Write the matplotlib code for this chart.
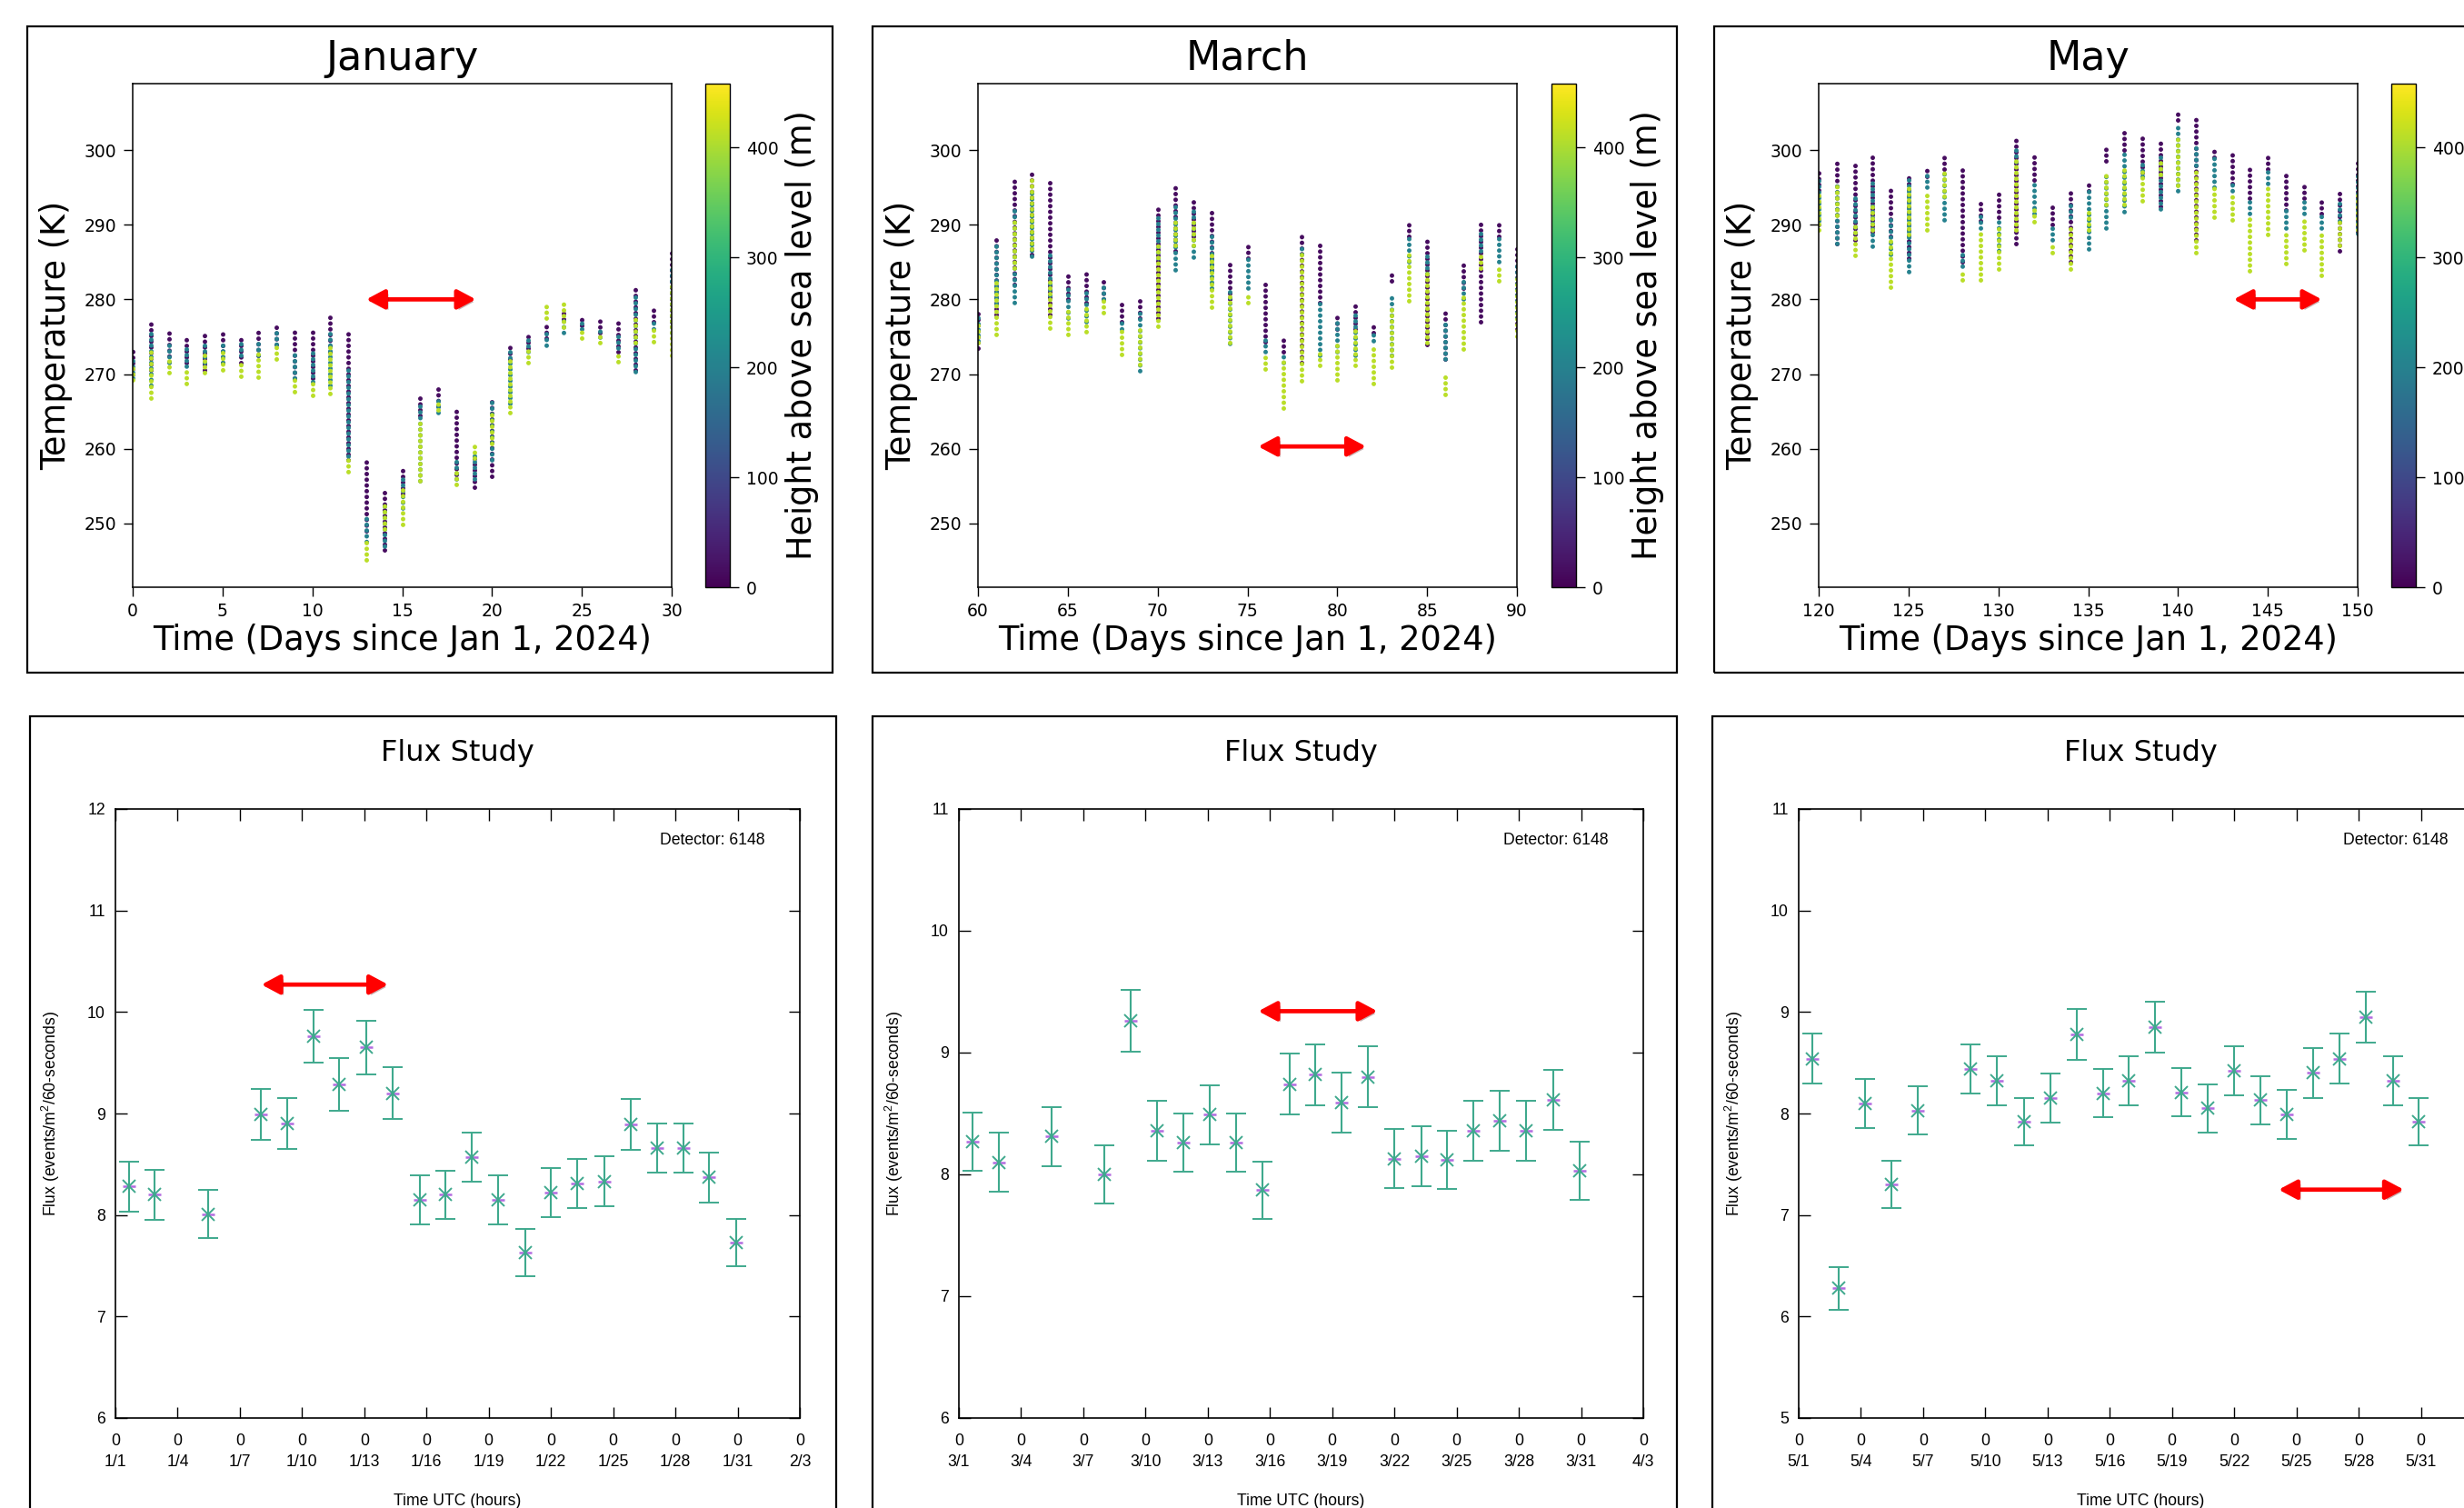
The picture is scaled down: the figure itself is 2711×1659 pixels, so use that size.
import matplotlib
matplotlib.use('Agg')
import matplotlib.pyplot as plt
from matplotlib.colors import Normalize
from matplotlib.cm import ScalarMappable
from matplotlib.patches import Rectangle
import matplotlib.patheffects as pe

plt.rcParams['font.family'] = ['DejaVu Sans']
plt.rcParams['mathtext.fontset'] = 'custom'
plt.rcParams['mathtext.rm'] = 'Liberation Sans'
plt.rcParams['mathtext.it'] = 'Liberation Sans:italic'

# ---------------- data: temperature columns (K) per day, per height class ----------------
heights = [15, 200, 410]          # m above sea level: low (purple), mid (teal), high (yellow)
height_max = 458

jan_days = list(range(0, 31))
jan_low = [(270, 273.5), (270.5, 277), (271.7, 275.8), (271.5, 274.7), (270.5, 275.4), (271.5, 275.7),
           (271.5, 275.3), (272.5, 275.7), (274, 276.6), (269.5, 275.9), (269.5, 275.7), (273, 278.3),
           (258.5, 275.7), (249, 258.9), (246.5, 254.6), (254, 257.4), (264.5, 267), (265.7, 268),
           (256.5, 265.7), (254.8, 259), (256.3, 267), (272, 273.9), (273.5, 275.7), (274.8, 277),
           (277.4, 278.5), (276.5, 277.9), (275.5, 277.6), (273, 277.2), (270.5, 281.5), (277, 278.9),
           (277, 286.7)]
jan_mid = [(269, 272.5), (268, 276), (271, 274.5), (270.5, 273.5), (271, 274), (271, 274.5),
           (272, 274.5), (272, 274.5), (273.5, 275.5), (269, 273), (268.5, 273), (268, 276),
           (258.5, 271), (247, 251), (246.5, 252.5), (251.5, 256.5), (255.2, 266), (264.3, 266.5),
           (255.5, 258.5), (255.5, 259.5), (258, 266.5), (265.5, 273), (272.5, 275), (273.3, 276),
           (275, 277.4), (275.5, 277), (274.5, 276), (273, 275), (269.8, 280.5), (275.5, 277.5),
           (275, 284.5)]
jan_high = [(269, 271), (266.5, 273), (269.9, 272), (268.5, 271), (270, 273), (270.3, 273.5),
            (269.5, 272), (269.3, 273), (271.8, 274), (267.4, 270), (266.9, 269), (267.2, 274),
            (256.7, 259), (244.8, 248), (249, 253), (249.6, 255), (255.5, 264), (265, 266),
            (255, 256.8), (258.5, 260.7), (260.4, 265), (264.6, 272), (271.3, 273.5), (277.2, 279.3),
            (276, 279.7), (274.6, 276), (274, 275), (271.4, 273), (274, 277.5), (274.1, 276),
            (272.2, 282)]

mar_days = list(range(60, 91))
mar_low = [(273.5, 278.7), (278, 288.3), (282, 296.1), (286, 297), (278, 295.9), (280, 283.6),
           (279.5, 283.5), (280, 283), (277, 279.5), (277.5, 280.2), (277.5, 292.7), (286.5, 295),
           (288.5, 293.6), (284, 292.4), (280, 285.4), (285.5, 287.6), (274.3, 282.2), (273, 274.6),
           (271.5, 288.7), (279.5, 288), (276, 277.9), (276, 279.4), (275.5, 277), (282.5, 283.9),
           (288.5, 290), (274, 288.5), (272, 278.3), (281.5, 284.7), (277, 290.3), (288.5, 290.5),
           (276, 287)]
mar_mid = [(274, 278), (279, 287.5), (279.1, 292), (285.3, 294.5), (280, 286), (277, 281.5),
           (276.5, 281), (279.5, 282), (275.5, 277.5), (270, 278.5), (285, 291), (283.5, 293),
           (285.1, 292), (281, 288.5), (273.6, 281), (281, 286), (272.5, 275), (271, 273),
           (285.5, 287.5), (272, 279.5), (272.5, 277), (272, 278.5), (274, 275.5), (272, 280.5),
           (284.5, 288.5), (283, 286), (271.5, 277), (279.5, 282.5), (286, 289), (284.5, 288.5),
           (277, 285)]
mar_high = [(274, 277), (275, 282.5), (284, 291), (286.5, 296), (275.9, 283), (275, 278.5),
            (275.4, 279), (278, 280), (272.4, 276), (271, 276.5), (276.1, 287.5), (287, 290.5),
            (287, 291), (278.7, 286.5), (274, 281), (279.3, 281), (270.4, 272.5), (265.2, 272),
            (268.9, 286), (270.9, 273.5), (269, 274.5), (270.9, 276), (268.5, 274), (270.7, 279),
            (279.6, 286.5), (274, 284), (267, 270), (273.1, 280.5), (284, 286.5), (282.2, 284.5),
            (274.8, 283)]

may_days = list(range(120, 151))
may_low = [(290, 297), (287.5, 298.7), (288, 298), (289, 299), (288.5, 294.9), (285.5, 297),
           (296.5, 297.8), (297.5, 299.2), (285, 297.4), (290.5, 292.9), (291, 294.4), (287.5, 301.5),
           (296, 299.7), (290, 292.9), (285, 294.9), (294.5, 295.4), (298.5, 300.2), (300, 302.7),
           (297, 301.6), (292.5, 301.2), (304, 305.5), (288, 304.1), (299, 300.1), (295.5, 299.9),
           (293.5, 297.4), (297.5, 299.3), (292, 297.1), (293.5, 295.5), (291.5, 293.1), (286.5, 294.8),
           (289, 298.8)]
may_mid = [(290, 296), (287, 295.5), (288.5, 294), (286.6, 296), (285.5, 291), (283.2, 296),
           (294.5, 297), (290.1, 297.5), (284, 286.5), (289, 291.5), (286, 291), (298, 300.5),
           (291, 296), (287.5, 290), (290.5, 292.9), (286.2, 294.5), (289, 297), (291.2, 300),
           (296, 298.5), (291.6, 299.5), (294, 303.5), (297.5, 300.5), (294.5, 299), (294, 295.5),
           (291, 293.5), (295, 297.5), (289, 292), (291, 293.5), (289, 291.5), (290, 293.5),
           (288.3, 297)]
may_high = [(289, 294), (291, 295.5), (285.7, 290), (289, 292.5), (281.4, 288), (288.5, 295),
            (289.1, 294.5), (293.5, 297), (282.3, 283.5), (282.3, 289), (283.8, 289.5), (289, 299),
            (290.1, 292), (286, 287.5), (283.8, 290), (289, 292), (292.5, 297), (292.5, 297.5),
            (293, 297.5), (296.5, 298.5), (295, 302), (286, 297.5), (290.7, 295.5), (290.4, 294),
            (283.6, 291), (288.4, 295), (284.5, 289), (286.4, 291), (283, 289), (287, 290.5),
            (289, 294)]

temp_titles = ['January', 'March', 'May']
temp_xticks = [[0, 5, 10, 15, 20, 25, 30], [60, 65, 70, 75, 80, 85, 90],
               [120, 125, 130, 135, 140, 145, 150]]
temp_yticks = [250, 260, 270, 280, 290, 300]
cbar_ticks = [0, 100, 200, 300, 400]
temp_arrows = [(13.0, 19.1, 280.0), (75.6, 81.6, 260.3), (143.1, 148.0, 280.0)]

# ---------------- data: flux study ----------------
jan_fx = [0.64, 1.90, 4.48, 7.0, 8.28, 9.57, 10.8, 12.09, 13.37, 14.66, 15.92, 17.18, 18.47,
          19.75, 21.01, 22.27, 23.56, 24.85, 26.1, 27.37, 28.63, 29.94]
jan_fy = [8.28, 8.20, 8.01, 8.99, 8.90, 9.76, 9.29, 9.65, 9.20, 8.15, 8.20, 8.57, 8.15,
          7.63, 8.22, 8.31, 8.33, 8.89, 8.66, 8.66, 8.37, 7.73]
jan_fe = [0.245, 0.245, 0.24, 0.25, 0.25, 0.26, 0.26, 0.265, 0.255, 0.245, 0.24, 0.245, 0.245,
          0.235, 0.24, 0.245, 0.245, 0.25, 0.245, 0.245, 0.245, 0.23]

mar_fx = [0.65, 1.94, 4.48, 7.02, 8.27, 9.56, 10.84, 12.10, 13.36, 14.64, 15.95, 17.20, 18.46,
          19.72, 21.0, 22.29, 23.54, 24.82, 26.08, 27.34, 28.65, 29.95]
mar_fy = [8.27, 8.10, 8.31, 8.00, 9.26, 8.36, 8.26, 8.49, 8.26, 7.87, 8.74, 8.82, 8.59,
          8.80, 8.13, 8.15, 8.12, 8.36, 8.44, 8.36, 8.61, 8.03]
mar_fe = [0.24, 0.24, 0.245, 0.24, 0.255, 0.245, 0.24, 0.245, 0.24, 0.235, 0.25, 0.25, 0.245,
          0.25, 0.245, 0.245, 0.24, 0.245, 0.245, 0.245, 0.245, 0.24]

may_fx = [0.64, 1.93, 3.2, 4.47, 5.74, 8.28, 9.55, 10.85, 12.12, 13.39, 14.66, 15.93, 17.2,
          18.47, 19.74, 21.01, 22.28, 23.55, 24.82, 26.09, 27.36, 28.64, 29.91]
may_fy = [8.54, 6.28, 8.10, 7.30, 8.03, 8.44, 8.32, 7.92, 8.15, 8.78, 8.20, 8.32, 8.85,
          8.21, 8.05, 8.42, 8.13, 7.99, 8.40, 8.54, 8.95, 8.32, 7.92]
may_fe = [0.245, 0.21, 0.24, 0.23, 0.24, 0.245, 0.24, 0.235, 0.24, 0.25, 0.24, 0.24, 0.25,
          0.24, 0.235, 0.245, 0.24, 0.24, 0.245, 0.245, 0.25, 0.24, 0.235]

jan_dates = ['1/1', '1/4', '1/7', '1/10', '1/13', '1/16', '1/19', '1/22', '1/25', '1/28', '1/31', '2/3']
mar_dates = ['3/1', '3/4', '3/7', '3/10', '3/13', '3/16', '3/19', '3/22', '3/25', '3/28', '3/31', '4/3']
may_dates = ['5/1', '5/4', '5/7', '5/10', '5/13', '5/16', '5/19', '5/22', '5/25', '5/28', '5/31', '6/3']
flux_ylims = [(6, 12), (6, 11), (5, 11)]
flux_arrows = [(7.04, 13.15, 10.27), (14.44, 20.18, 9.34), (23.14, 29.18, 7.25)]
detector_text = 'Detector: 6148'

# ---------------- figure ----------------
W, H = 2711, 1659
fig = plt.figure(figsize=(W / 100, H / 100), dpi=100, facecolor='white')


def rect_px(x0, y0, x1, y1):
    return [x0 / W, 1 - y1 / H, (x1 - x0) / W, (y1 - y0) / H]


# panel frames
for (x0, y0, x1, y1) in [(30, 29, 916, 740), (960, 29, 1845, 740), (1886, 29, 2740, 740),
                         (33, 788, 920, 1700), (960, 788, 1845, 1700), (1884, 788, 2740, 1700)]:
    fig.add_artist(Rectangle((x0 / W, 1 - y1 / H), (x1 - x0) / W, (y1 - y0) / H,
                             transform=fig.transFigure, fill=False, ec='black', lw=1.6))

cmap = plt.get_cmap('viridis')
norm = Normalize(0, height_max)


def add_arrow(ax, x0, x1, y, ms=20):
    ax.annotate('', xy=(x1, y), xytext=(x0, y),
                arrowprops=dict(arrowstyle='<|-|>,head_length=0.6,head_width=0.32',
                                color='#ff0000', lw=3.4, mutation_scale=ms,
                                shrinkA=0, shrinkB=0,
                                path_effects=[pe.SimplePatchShadow(offset=(2, -2), alpha=0.3),
                                              pe.Normal()]))


temp_sets = [(jan_days, [jan_low, jan_mid, jan_high]),
             (mar_days, [mar_low, mar_mid, mar_high]),
             (may_days, [may_low, may_mid, may_high])]
ax_lefts = [146, 1076, 2001]
cb_lefts = [776, 1706.6, 2630.7]
dash_offsets = [0.0, 0.42, 0.84]

for i, (days, classes) in enumerate(temp_sets):
    L = ax_lefts[i]
    ax = fig.add_axes(rect_px(L, 92, L + 593, 646))
    order = [2, 1, 0]
    for k in order:
        rng = classes[k]
        lo = [r[0] for r in rng]
        hi = [r[1] for r in rng]
        ax.vlines(days, lo, hi, colors=[cmap(norm(heights[k]))], linewidth=3.6,
                  linestyles=[(dash_offsets[k], (0.01, 1.25))], capstyle='round', zorder=2 + k * 0.1)
    ax.set_xlim(temp_xticks[i][0], temp_xticks[i][-1])
    ax.set_ylim(241.45, 308.9)
    ax.set_xticks(temp_xticks[i])
    ax.set_yticks(temp_yticks)
    ax.tick_params(axis='both', labelsize=13.5, length=7, width=1.0)
    ax.tick_params(axis='x', pad=5)
    ax.tick_params(axis='y', pad=6)
    for s in ax.spines.values():
        s.set_linewidth(1.1)
    ax.set_title(temp_titles[i], fontsize=32, y=1.0505, va='center', pad=0)
    ax.set_xlabel('Time (Days since Jan 1, 2024)', fontsize=26.5)
    ax.xaxis.set_label_coords(0.5, -0.1056)
    ax.xaxis.label.set_va('center')
    ax.set_ylabel('Temperature (K)', fontsize=26.3)
    ax.yaxis.set_label_coords(-0.1417, 0.5)
    ax.yaxis.label.set_va('center')
    ax.yaxis.label.set_ha('center')
    add_arrow(ax, *temp_arrows[i])

    C = cb_lefts[i]
    cax = fig.add_axes(rect_px(C, 92, C + 27, 646))
    sm = ScalarMappable(norm=norm, cmap=cmap)
    cb = fig.colorbar(sm, cax=cax)
    cb.set_ticks(cbar_ticks)
    cb.outline.set_linewidth(1.0)
    cax.tick_params(labelsize=13.5, length=7, width=1.0, pad=6)
    cb.set_label('Height above sea level (m)', fontsize=26.3)
    cax.yaxis.set_label_coords(3.93, 0.5)
    cax.yaxis.label.set_va('center')
    cax.yaxis.label.set_ha('center')

# ---------------- flux panels ----------------
green = '#3fa98d'
purple = '#b36be0'
gfont = 'Liberation Sans'
flux_sets = [(jan_fx, jan_fy, jan_fe, jan_dates), (mar_fx, mar_fy, mar_fe, mar_dates),
             (may_fx, may_fy, may_fe, may_dates)]
flux_lefts = [127, 1055, 1979]

for i, (fx, fy, fe, dates) in enumerate(flux_sets):
    L = flux_lefts[i]
    ax = fig.add_axes(rect_px(L, 890, L + 753, 1560))
    ax.plot(fx, fy, ls='none', marker='_', color=purple, ms=10, mew=1.8, zorder=2)
    ax.errorbar(fx, fy, yerr=fe, fmt='x', color=green, ms=10, mew=1.4, elinewidth=1.5,
                capsize=8, capthick=1.5, zorder=3)
    y0, y1 = flux_ylims[i]
    ax.set_xlim(0, 33)
    ax.set_ylim(y0, y1)
    ax.set_xticks(list(range(0, 34, 3)), labels=['0\n' + d for d in dates],
                  fontfamily=gfont, fontsize=12.7, linespacing=1.48)
    yt = list(range(y0, y1 + 1))
    ax.set_yticks(yt, labels=[str(v) for v in yt], fontfamily=gfont, fontsize=12.7)
    ax.tick_params(direction='in', top=True, right=True, length=9, width=1.0)
    ax.tick_params(axis='x', pad=12)
    ax.tick_params(axis='y', pad=8)
    for s in ax.spines.values():
        s.set_linewidth(1.2)
    ax.set_title('Flux Study', fontsize=23, y=1.0925, va='center', pad=0)
    ax.set_xlabel('Time UTC (hours)', fontfamily=gfont, fontsize=12.7)
    ax.xaxis.set_label_coords(0.5, -0.1373)
    ax.xaxis.label.set_va('center')
    ax.set_ylabel('Flux (events/m$^{2}$/60-seconds)', fontfamily=gfont, fontsize=12.7)
    ax.yaxis.set_label_coords(-0.0943, 0.5)
    ax.yaxis.label.set_va('center')
    ax.yaxis.label.set_ha('center')
    ax.text(0.9495, 0.949, detector_text, transform=ax.transAxes, ha='right', va='center',
            fontfamily=gfont, fontsize=12.7)
    add_arrow(ax, *flux_arrows[i])

fig.savefig('out.png', dpi=100, facecolor='white')
